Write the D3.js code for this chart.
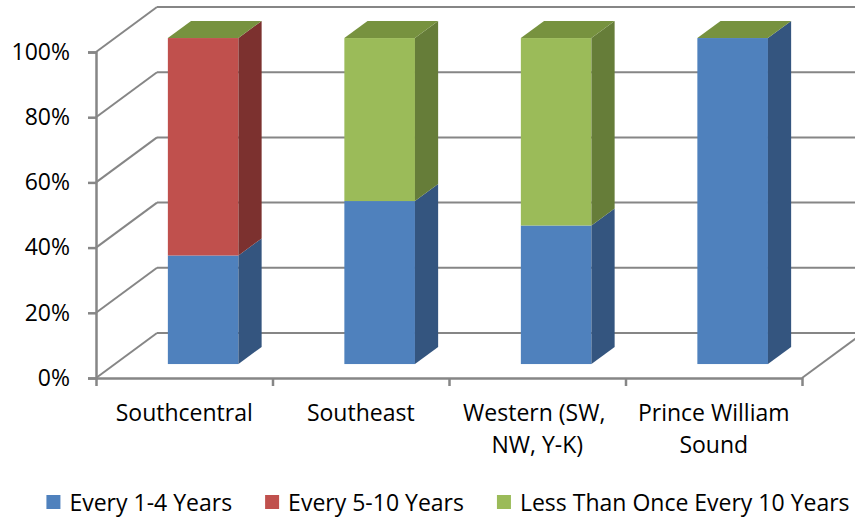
<!DOCTYPE html>
<html>
<head>
<meta charset="utf-8">
<script src="https://cdn.jsdelivr.net/npm/d3@7"></script>
<style>
  html, body { margin: 0; padding: 0; background: #fff; }
  svg { display: block; }
  text { font-family: "Open Sans", "Noto Sans", sans-serif; fill: #000; }
</style>
</head>
<body>
<svg id="chart" width="855" height="521"></svg>
<script>
// Regions and the share of each flooding-frequency class (percent)
const categories = ["Southcentral", "Southeast", "Western (SW, NW, Y-K)", "Prince William Sound"];
const categoryLines = [["Southcentral"], ["Southeast"], ["Western (SW, ", "NW, Y-K)"], ["Prince William", "Sound"]];
const every1to4 = [33.3, 50, 42.5, 100];
const every5to10 = [66.7, 0, 0, 0];
const lessThanOnce10 = [0, 50, 57.5, 0];
const seriesNames = ["Every 1-4 Years", "Every 5-10 Years", "Less Than Once Every 10 Years"];
const yTicks = [0, 20, 40, 60, 80, 100];

const seriesValues = [every1to4, every5to10, lessThanOnce10];
const frontColors = ["#4F81BD", "#C0504D", "#9BBB59"];
const sideColors = ["#34557F", "#7C312F", "#667D39"];
const topColor = "#77923F";
const gridColor = "#868686";
const fontSize = 23;

const svg = d3.select("#chart");

// Front plane of the plot box
const x0 = 96, x1 = 802;
const y = d3.scaleLinear().domain([0, 100]).range([378, 52]);
const x = d3.scaleBand().domain(categories).range([x0, x1])
  .paddingInner(0.6).paddingOuter(0.3);
const xEdge = d3.scaleLinear().domain([0, categories.length]).range([x0, x1]);

// Oblique depth: t = 0 is the front plane, t = 1 the back wall
const depthX = 61, depthY = -45;
const barT0 = 0.31, barT1 = 0.69;
const proj = (px, v, t) => [px + depthX * t, y(v) + depthY * t];

const grid = svg.append("g").attr("fill", "none").attr("stroke", gridColor).attr("stroke-width", 2);

// Back wall gridlines
yTicks.forEach(v => {
  const a = proj(x0, v, 1), b = proj(x1, v, 1);
  grid.append("line").attr("x1", a[0]).attr("y1", a[1]).attr("x2", b[0]).attr("y2", b[1]);
});
// Left wall gridlines
yTicks.forEach(v => {
  const a = proj(x0, v, 0), b = proj(x0, v, 1);
  grid.append("line").attr("x1", a[0]).attr("y1", a[1]).attr("x2", b[0]).attr("y2", b[1]);
});
// Floor right edge
{
  const a = proj(x1, 0, 0), b = proj(x1, 0, 1);
  grid.append("line").attr("x1", a[0]).attr("y1", a[1]).attr("x2", b[0]).attr("y2", b[1]);
}

// Stacked 3D columns
const bars = svg.append("g");
categories.forEach((cat, i) => {
  const xl = x(cat), xr = x(cat) + x.bandwidth();
  let base = 0;
  seriesValues.forEach((vals, s) => {
    const v = vals[i];
    if (v <= 0) return;
    const top = base + v;
    const f0 = proj(xl, base, barT0), f1 = proj(xr, top, barT0);
    bars.append("rect")
      .attr("x", f0[0]).attr("y", f1[1])
      .attr("width", f1[0] - f0[0]).attr("height", f0[1] - f1[1])
      .attr("fill", frontColors[s]);
    const side = [proj(xr, base, barT0), proj(xr, top, barT0), proj(xr, top, barT1), proj(xr, base, barT1)];
    bars.append("polygon").attr("points", side.map(p => p.join(",")).join(" "))
      .attr("fill", sideColors[s]);
    base = top;
  });
  const topFace = [proj(xl, base, barT0), proj(xr, base, barT0), proj(xr, base, barT1), proj(xl, base, barT1)];
  bars.append("polygon").attr("points", topFace.map(p => p.join(",")).join(" "))
    .attr("fill", topColor);
});

// Value axis
const yAxis = svg.append("g").attr("transform", `translate(${x0},0)`)
  .call(d3.axisLeft(y).tickValues(yTicks).tickFormat(d => d + "%").tickSize(8).tickSizeOuter(8).tickPadding(18));
yAxis.selectAll("path, line").attr("stroke", gridColor).attr("stroke-width", 2.5);
yAxis.selectAll("text").attr("font-size", fontSize).attr("font-family", "Open Sans, sans-serif").attr("fill", "#000");

// Category axis
const xAxis = svg.append("g").attr("transform", `translate(0,${y(0)})`)
  .call(d3.axisBottom(xEdge).tickValues(d3.range(categories.length + 1)).tickFormat("").tickSize(8).tickSizeOuter(0));
xAxis.selectAll("path, line").attr("stroke", gridColor).attr("stroke-width", 2.5);

// Category labels
const xc = d => xEdge(d + 0.5);
categories.forEach((cat, i) => {
  const t = svg.append("text")
    .attr("x", xc(i)).attr("y", 421)
    .attr("text-anchor", "middle").attr("font-size", fontSize)
    .style("white-space", "pre");
  categoryLines[i].forEach((line, k) => {
    t.append("tspan").attr("x", xc(i)).attr("dy", k === 0 ? 0 : 32).text(line);
  });
});

// Legend
const legend = svg.append("g");
let lx = 0;
seriesNames.forEach((name, s) => {
  const g = legend.append("g").attr("transform", `translate(${lx},0)`);
  g.append("rect").attr("x", 0).attr("y", -16).attr("width", 14).attr("height", 14).attr("fill", frontColors[s]);
  const txt = g.append("text").attr("x", 23).attr("y", 0).attr("font-size", fontSize).text(name);
  const w = txt.node().getComputedTextLength();
  lx += 23 + w + 33;
});
const totalW = lx - 33;
legend.attr("transform", `translate(${448 - totalW / 2},511)`);
</script>
</body>
</html>
